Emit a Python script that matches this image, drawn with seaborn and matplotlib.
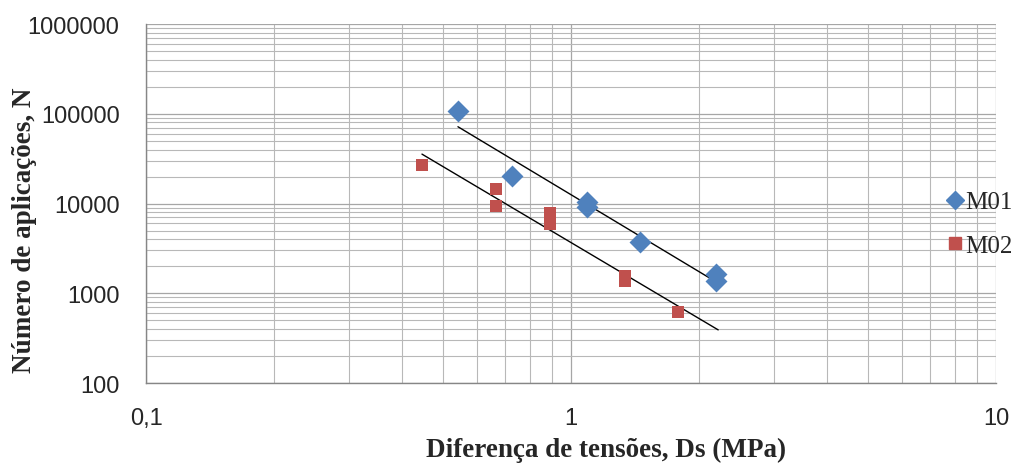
import numpy as np
import pandas as pd
import matplotlib
matplotlib.use("Agg")
import matplotlib.pyplot as plt
import seaborn as sns
from matplotlib.ticker import FixedLocator, FuncFormatter, NullFormatter, LogLocator
from matplotlib.lines import Line2D

# Fatigue test results: stress difference (MPa) vs. number of load applications
m01_ds = [0.542, 0.726, 1.09, 1.09, 1.45, 2.19, 2.19]
m01_n = [107000, 20200, 10400, 9140, 3700, 1640, 1370]

m02_ds = [0.446, 0.667, 0.667, 0.892, 0.892, 1.34, 1.34, 1.79]
m02_n = [26900, 14500, 9380, 7840, 5910, 1560, 1370, 618]

series_names = ["M01", "M02"]
x_ticks = [0.1, 1, 10]
x_tick_labels = ["0,1", "1", "10"]
y_ticks = [100, 1000, 10000, 100000, 1000000]

df = pd.DataFrame({
    "ds": m01_ds + m02_ds,
    "n": m01_n + m02_n,
    "serie": ["M01"] * len(m01_ds) + ["M02"] * len(m02_ds),
})

sns.set_style("white")
plt.rcParams["font.family"] = ["Liberation Sans", "DejaVu Sans"]

blue = "#4F81BD"
red = "#C0504D"

fig = plt.figure(figsize=(10.21, 4.64), dpi=100)
ax = fig.add_axes([0.143, 0.1724, 0.8325, 0.7736])
ax.set_xscale("log")
ax.set_yscale("log")
ax.set_xlim(0.1, 10)
ax.set_ylim(100, 1000000)

# grid first so the data sit on top
ax.set_axisbelow(True)
ax.xaxis.set_minor_locator(LogLocator(base=10, subs=np.arange(2, 10)))
ax.yaxis.set_minor_locator(LogLocator(base=10, subs=np.arange(2, 10)))
ax.grid(which="major", color="#a6a6a6", lw=0.9)
ax.grid(which="minor", color="#b8b8b8", lw=0.8)

# power-law trendlines (least squares in log-log space)
def trend(xs, ys, x_end):
    b, a = np.polyfit(np.log10(xs), np.log10(ys), 1)
    xx = np.array([min(xs), x_end])
    return xx, 10 ** (a + b * np.log10(xx))

tx1, ty1 = trend(m01_ds, m01_n, max(m01_ds))
tx2, ty2 = trend(m02_ds, m02_n, 2.22)
ax.plot(tx1, ty1, color="black", lw=1.0, zorder=3)
ax.plot(tx2, ty2, color="black", lw=1.0, zorder=3)

sns.scatterplot(data=df[df.serie == "M01"], x="ds", y="n", marker="D", s=125,
                color=blue, edgecolor=blue, linewidth=0, ax=ax, zorder=4, legend=False)
sns.scatterplot(data=df[df.serie == "M02"], x="ds", y="n", marker="s", s=80,
                color=red, edgecolor=red, linewidth=0, ax=ax, zorder=4, legend=False)

ax.xaxis.set_major_locator(FixedLocator(x_ticks))
ax.xaxis.set_major_formatter(FuncFormatter(lambda v, p: x_tick_labels[x_ticks.index(v)] if v in x_ticks else ""))
ax.xaxis.set_minor_formatter(NullFormatter())
ax.yaxis.set_major_locator(FixedLocator(y_ticks))
ax.yaxis.set_major_formatter(FuncFormatter(lambda v, p: f"{int(round(v))}"))
ax.yaxis.set_minor_formatter(NullFormatter())

ax.tick_params(axis="both", which="major", direction="out", length=5, width=1,
               color="#868686", labelsize=17, labelcolor="#262626")
ax.tick_params(axis="x", pad=12)
ax.tick_params(axis="y", pad=14)
ax.tick_params(which="minor", length=0)

for side in ["top", "right"]:
    ax.spines[side].set_visible(False)
for side in ["left", "bottom"]:
    ax.spines[side].set_color("#868686")
    ax.spines[side].set_linewidth(1.0)

label_font = dict(family=["Liberation Serif", "DejaVu Serif"], weight="bold", size=19.5)
ax.set_xlabel("Diferença de tensões, Ds (MPa)", **label_font)
ax.set_ylabel("Número de aplicações, N", **label_font)
ax.xaxis.set_label_coords(0.541, -0.150)
ax.yaxis.set_label_coords(-0.128, 0.429)

handles = [
    Line2D([], [], marker="D", ls="", color=blue, markersize=9),
    Line2D([], [], marker="s", ls="", color=red, markersize=8.5),
]
leg = ax.legend(handles, series_names, loc="center left", bbox_to_anchor=(0.943, 0.443),
                frameon=False, borderpad=0, borderaxespad=0, handlelength=0.6,
                handletextpad=0.12, labelspacing=0.85,
                prop={"family": ["Liberation Serif", "DejaVu Serif"], "size": 18})

fig.savefig("out.png", dpi=100)
